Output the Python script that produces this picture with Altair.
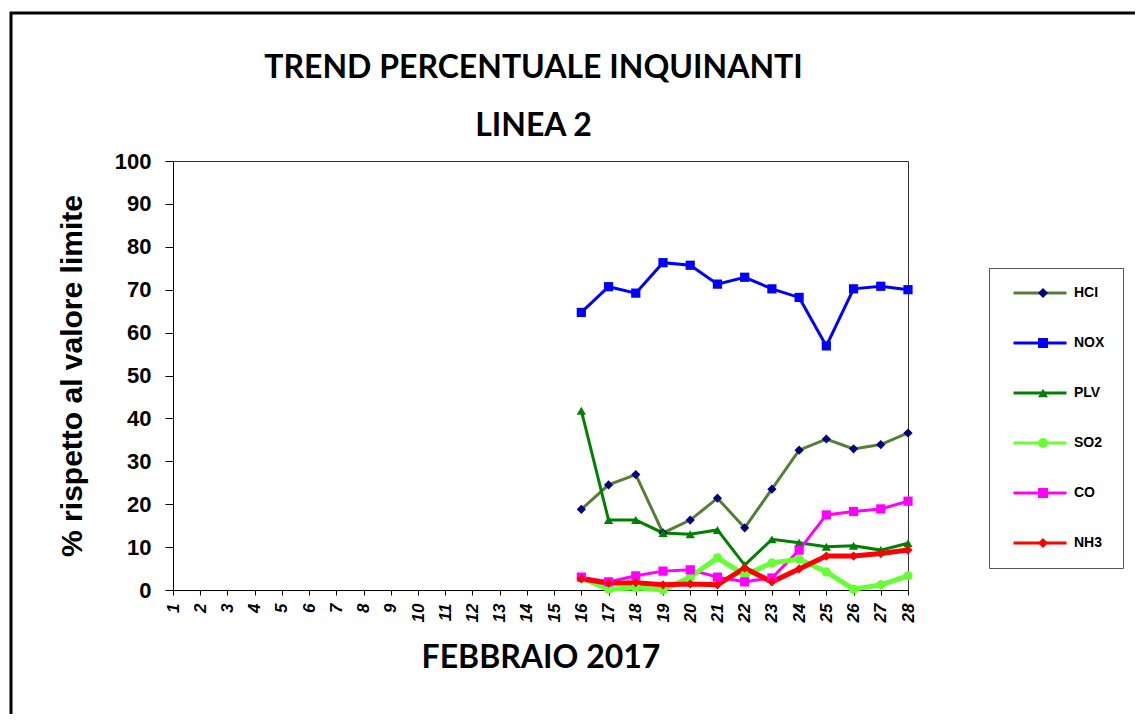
import altair as alt
import pandas as pd

days = list(range(16, 29))
series_names = ["HCI", "NOX", "PLV", "SO2", "CO", "NH3"]
hci = [18.8, 24.5, 26.9, 13.3, 16.3, 21.4, 14.5, 23.5, 32.6, 35.2, 32.9, 33.9, 36.6]
nox = [64.7, 70.7, 69.2, 76.3, 75.7, 71.3, 72.9, 70.2, 68.2, 56.9, 70.2, 70.8, 70.0]
plv = [41.8, 16.3, 16.3, 13.3, 13.0, 14.0, 5.8, 11.8, 11.0, 10.1, 10.3, 9.3, 10.9]
so2 = [2.8, 0.2, 0.5, 0.0, 3.0, 7.5, 3.5, 6.3, 7.2, 4.2, 0.2, 1.2, 3.3]
co = [3.0, 1.9, 3.3, 4.4, 4.7, 3.0, 1.9, 2.8, 9.3, 17.5, 18.3, 18.9, 20.7]
nh3 = [2.6, 1.6, 1.7, 1.2, 1.4, 1.2, 5.1, 1.9, 4.9, 7.9, 7.9, 8.5, 9.3]
x_ticks = list(range(1, 29))
y_ticks = list(range(0, 101, 10))

line_colors = ["#567f35", "#0000ff", "#008000", "#66ff33", "#ff00ff", "#ff0000"]
marker_fills = ["#000080", "#0000ff", "#008000", "#66ff33", "#ff00ff", "#ff0000"]
marker_shapes = ["diamond", "square", "triangle-up", "circle", "square", "diamond"]

values = [hci, nox, plv, so2, co, nh3]
rows = []
for name, vals in zip(series_names, values):
    for d, v in zip(days, vals):
        rows.append({"giorno": d, "valore": v, "serie": name})
df = pd.DataFrame(rows)

LBL_FONT = "Liberation Sans"

x_enc = alt.X(
    "giorno:Q",
    scale=alt.Scale(domain=[1, 28], nice=False, zero=False),
    axis=alt.Axis(
        values=x_ticks, title="FEBBRAIO 2017", labelAngle=270, labelAlign="right",
        labelBaseline="middle", labelFont=LBL_FONT, labelFontWeight="bold",
        labelFontStyle="italic", labelFontSize=17, labelPadding=8, tickSize=5,
        titleFont="Lato", titleFontSize=32, titleFontWeight="bold", titlePadding=21,
        labelOverlap=False, grid=False, format="d",
    ),
)
y_enc = alt.Y(
    "valore:Q",
    scale=alt.Scale(domain=[0, 100], nice=False),
    axis=alt.Axis(
        values=y_ticks, title="% rispetto al valore limite", labelFont=LBL_FONT,
        labelFontWeight="bold", labelFontSize=22, labelPadding=14, tickSize=8,
        titleFont=LBL_FONT, titleFontSize=30, titleFontWeight="bold", titlePadding=27,
        grid=False,
    ),
)

legA = alt.Legend(
    title=None, orient="none", legendX=816, legendY=107, padding=18, clipHeight=14,
    rowPadding=36, symbolType="stroke", symbolSize=2809, symbolStrokeWidth=3,
    symbolOffset=5, labelOffset=6,
    labelFont=LBL_FONT, labelFontWeight="bold", labelFontSize=14, labelColor="black",
    strokeColor="#555555", fillColor="white", direction="vertical",
)
legB = alt.Legend(
    title=None, orient="none", legendX=865, legendY=125, padding=0, clipHeight=14,
    rowPadding=36, labelOffset=0, labelFontSize=8, labelExpr="''",
    symbolStrokeWidth=0, direction="vertical",
)

stroke_enc = alt.Stroke(
    "serie:N", scale=alt.Scale(domain=series_names, range=line_colors), legend=legA
)

base = alt.Chart(df)
thin = base.transform_filter(
    alt.FieldOneOfPredicate(field="serie", oneOf=["HCI", "NOX", "PLV", "CO"])
).mark_line(strokeWidth=3).encode(x=x_enc, y=y_enc, stroke=stroke_enc, detail="serie:N")
thick = base.transform_filter(
    alt.FieldOneOfPredicate(field="serie", oneOf=["SO2", "NH3"])
).mark_line(strokeWidth=5).encode(x=x_enc, y=y_enc, stroke=stroke_enc, detail="serie:N")

points = base.mark_point(filled=True, size=85, opacity=1).encode(
    x=x_enc, y=y_enc,
    fill=alt.Fill("serie:N", scale=alt.Scale(domain=series_names, range=marker_fills), legend=legB),
    shape=alt.Shape("serie:N", scale=alt.Scale(domain=series_names, range=marker_shapes), legend=legB),
)

frame = alt.Chart(alt.Data(values=[{"k": 1}])).mark_rect(
    fillOpacity=0, stroke="black", strokeWidth=3
).encode(
    x=alt.value(-162), x2=alt.value(1000), y=alt.value(-148), y2=alt.value(620)
)

chart = alt.layer(frame, thin, thick, points).resolve_legend(
    fill="independent", shape="independent"
).properties(
    width=735, height=429,
    padding={"left": 165, "top": 153, "right": 227, "bottom": 124},
    autosize=alt.AutoSizeParams(type="none"),
    title=alt.TitleParams(
        text=["TREND PERCENTUALE INQUINANTI", "LINEA 2"], font="Lato", fontSize=32,
        fontWeight="bold", lineHeight=58, anchor="middle", offset=-131, dx=-7, color="black",
    ),
).configure_view(stroke="#333333", strokeWidth=1).configure_axis(
    domainColor="black", tickColor="black", labelColor="black", titleColor="black",
    domainWidth=1, tickWidth=1,
)

chart.save("out.html", embed_options={"renderer": "svg", "actions": False})
